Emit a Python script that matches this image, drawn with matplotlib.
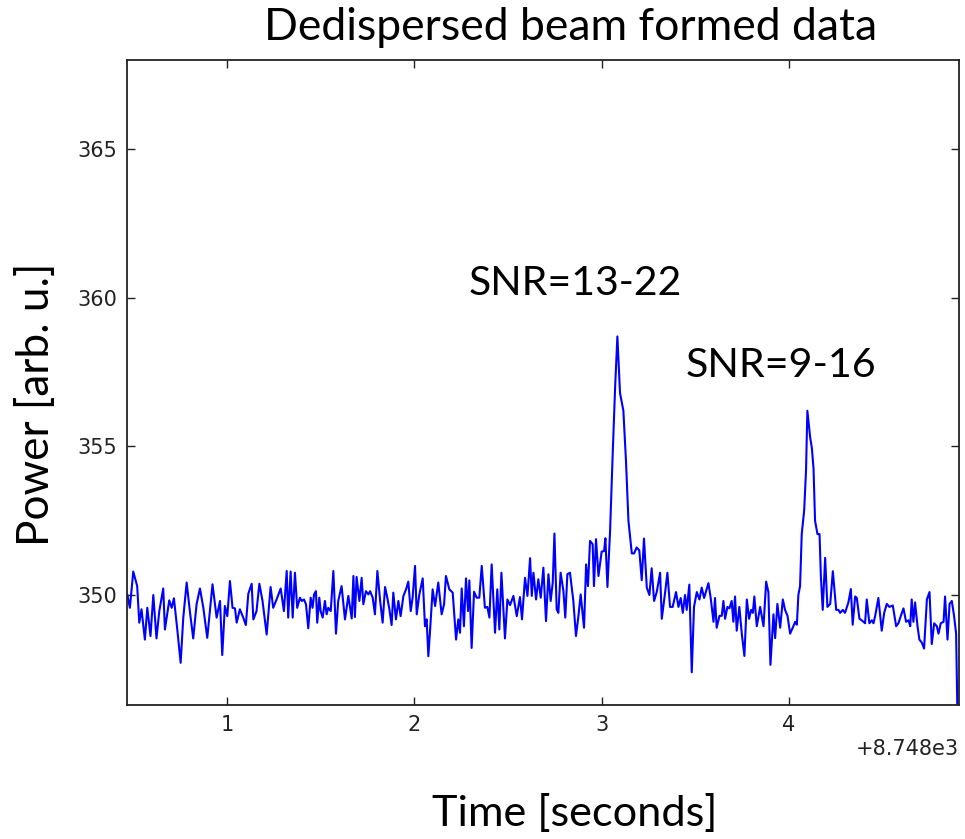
import matplotlib
matplotlib.use("Agg")
import matplotlib.pyplot as plt
import numpy as np
from matplotlib.ticker import ScalarFormatter, FixedLocator

# ---------------- data ----------------
title = "Dedispersed beam formed data"
x_label = "Time [seconds]"
y_label = "Power [arb. u.]"
peak_labels = ["SNR=13-22", "SNR=9-16"]
peak_label_pos = [(2.861, 360.49), (3.957, 357.72)]   # data coords (s after offset, power)
time_offset = 8748.0
x_ticks = [1, 2, 3, 4]
y_ticks = [350, 355, 360, 365]
x_range = (0.465, 4.909)
y_range = (346.3, 368.0)

time_s = [
    0.468, 0.482, 0.500, 0.521, 0.532, 0.544, 0.562, 0.575, 0.592, 0.607,
    0.624, 0.639, 0.660, 0.669, 0.692, 0.705, 0.717, 0.735, 0.753, 0.767,
    0.785, 0.802, 0.820, 0.838, 0.856, 0.874, 0.895, 0.923, 0.945, 0.963,
    0.975, 0.989, 1.002, 1.016, 1.030, 1.043, 1.052, 1.069, 1.087, 1.101,
    1.114, 1.132, 1.141, 1.158, 1.173, 1.190, 1.212, 1.233, 1.247, 1.265,
    1.287, 1.304, 1.319, 1.327, 1.340, 1.351, 1.363, 1.375, 1.390,
    1.399, 1.411, 1.422, 1.434, 1.447, 1.457, 1.465, 1.475, 1.482, 1.493,
    1.500, 1.511, 1.523, 1.532, 1.541, 1.554, 1.568, 1.582, 1.594, 1.612,
    1.630, 1.648, 1.666, 1.675, 1.683, 1.692, 1.707, 1.719, 1.728, 1.742,
    1.755, 1.764, 1.778, 1.790, 1.803, 1.817, 1.831, 1.844, 1.856, 1.867,
    1.879, 1.888, 1.902, 1.915, 1.927, 1.942, 1.956, 1.968, 1.981, 1.991,
    2.004, 2.013, 2.027, 2.045, 2.057, 2.066, 2.075, 2.084, 2.098, 2.111,
    2.128, 2.146, 2.159, 2.169, 2.187, 2.205, 2.223, 2.235, 2.244,
    2.253, 2.265, 2.276, 2.287, 2.294, 2.306, 2.319, 2.333, 2.347, 2.360,
    2.377, 2.390, 2.401, 2.413, 2.431, 2.443, 2.454, 2.465, 2.484, 2.497,
    2.511, 2.529, 2.547, 2.564, 2.575, 2.591, 2.604, 2.618, 2.627, 2.636,
    2.650, 2.662, 2.675, 2.689, 2.703, 2.716, 2.728, 2.739, 2.748, 2.760,
    2.769, 2.781, 2.796, 2.806, 2.817, 2.831, 2.849, 2.863, 2.876, 2.888,
    2.906, 2.917, 2.927, 2.938, 2.952, 2.959, 2.970, 2.983, 3.000, 3.013,
    3.020, 3.031,
    3.045, 3.059, 3.072, 3.084, 3.098, 3.116, 3.130, 3.143, 3.161, 3.173,
    3.187, 3.201, 3.214, 3.226, 3.241, 3.255, 3.267, 3.280, 3.294, 3.312,
    3.321, 3.339, 3.351, 3.365, 3.379, 3.397, 3.410, 3.422, 3.433, 3.445,
    3.454, 3.468, 3.481, 3.493, 3.508, 3.522, 3.534, 3.547, 3.561,
    3.570, 3.582, 3.597, 3.605, 3.614, 3.629, 3.641, 3.650, 3.659, 3.671,
    3.682, 3.694, 3.703, 3.712, 3.721, 3.735, 3.748, 3.762, 3.775, 3.787,
    3.798, 3.807, 3.815, 3.828, 3.846, 3.864, 3.878, 3.890, 3.901, 3.917,
    3.926, 3.938, 3.953, 3.967, 3.979, 3.992, 4.006, 4.020, 4.033, 4.042,
    4.050, 4.059, 4.068, 4.081, 4.091, 4.098, 4.113, 4.122, 4.131, 4.139,
    4.152, 4.163, 4.170, 4.180, 4.193, 4.205, 4.220, 4.234, 4.252,
    4.264, 4.273, 4.287, 4.299, 4.317, 4.330, 4.340, 4.353, 4.362, 4.376,
    4.388, 4.406, 4.415, 4.429, 4.442, 4.451, 4.460, 4.477, 4.495, 4.508,
    4.522, 4.536, 4.554, 4.572, 4.584, 4.597, 4.611, 4.625, 4.638, 4.647,
    4.655, 4.664, 4.673, 4.686, 4.696, 4.709, 4.721, 4.736, 4.750, 4.762,
    4.775, 4.789, 4.798, 4.810, 4.825, 4.833, 4.846, 4.857, 4.869, 4.881,
    4.892, 4.899,
]

power = [
    350.02, 349.57, 350.79, 350.30, 349.07, 349.52, 348.50, 349.57, 348.62, 350.00,
    348.54, 349.46, 350.22, 348.84, 349.82, 349.57, 349.89, 348.84, 347.72, 349.24,
    350.42, 349.46, 348.54, 349.69, 350.22, 349.57, 348.56, 350.36, 349.24, 349.80,
    347.98, 349.63, 349.29, 350.47, 349.57, 349.55, 349.07, 349.52, 349.24, 348.99,
    350.04, 350.38, 349.18, 349.46, 350.38, 349.80, 348.67, 350.27, 349.57, 349.85,
    350.22, 349.46, 350.81, 349.24, 350.79, 349.24, 350.75, 349.57, 349.91,
    349.80, 349.85, 349.69, 348.88, 349.91, 349.57, 350.02, 350.13, 349.07, 349.91,
    349.46, 349.24, 349.80, 349.35, 349.57, 349.46, 350.81, 348.70, 349.80, 350.30,
    349.18, 349.97, 349.21, 350.64, 349.26, 350.61, 349.80, 350.58, 349.69, 350.13,
    350.02, 350.13, 349.91, 349.35, 350.81, 349.85, 349.07, 350.27, 349.91, 349.52,
    348.99, 350.08, 349.18, 349.80, 349.29, 349.97, 350.19, 350.45, 349.46, 349.91,
    350.98, 349.35, 350.02, 350.56, 348.95, 349.18, 347.94, 348.79, 350.19, 349.63,
    350.42, 349.35, 349.69, 350.64, 350.19, 350.08, 348.50, 349.18, 348.73,
    350.22, 348.95, 350.56, 349.46, 350.49, 348.22, 350.11, 349.91, 349.91, 350.98,
    349.57, 349.60, 349.24, 351.03, 348.73, 350.19, 348.84, 350.75, 348.54, 349.85,
    349.66, 349.97, 349.29, 349.93, 349.18, 350.58, 349.97, 351.24, 349.97, 350.75,
    349.85, 350.53, 349.91, 350.92, 349.12, 350.70, 349.80, 350.42, 352.07, 349.52,
    349.40, 350.75, 350.13, 349.24, 350.70, 350.75, 349.80, 348.62, 349.29, 350.02,
    348.90, 351.03, 350.30, 351.82, 351.71, 350.30, 351.88, 350.64, 351.46, 351.48,
    351.91, 350.27,
    352.15, 354.75, 357.00, 358.70, 356.80, 356.20, 354.50, 352.50, 351.40, 351.40,
    351.60, 351.50, 350.50, 351.90, 350.25, 350.00, 350.90, 349.80, 350.10, 350.75,
    349.20, 350.10, 350.75, 349.60, 349.60, 350.10, 349.60, 349.90, 349.40, 350.00,
    349.50, 350.35, 347.40, 349.60, 350.10, 349.85, 350.25, 349.90, 350.20,
    350.40, 349.90, 349.10, 349.90, 348.90, 349.30, 349.30, 349.80, 349.20, 349.60,
    349.55, 349.80, 349.10, 349.95, 348.80, 349.60, 348.70, 347.95, 349.85, 349.20,
    349.50, 349.40, 349.95, 348.95, 349.60, 348.95, 350.45, 350.10, 347.65, 349.35,
    348.55, 349.70, 348.90, 349.85, 349.50, 349.30, 348.70, 348.90, 349.10, 349.00,
    350.00, 350.30, 352.05, 352.85, 354.20, 356.20, 355.30, 354.95, 354.25, 352.50,
    352.05, 352.05, 350.65, 349.50, 351.25, 349.60, 349.70, 350.80, 349.50,
    349.50, 349.40, 349.50, 349.40, 349.75, 350.20, 349.00, 349.95, 349.90, 349.20,
    349.15, 349.05, 349.85, 349.05, 349.15, 349.05, 349.30, 349.90, 348.80, 349.40,
    349.70, 349.60, 349.65, 348.95, 349.05, 349.30, 349.55, 349.10, 349.15, 348.95,
    349.85, 349.10, 349.75, 348.95, 348.50, 348.40, 348.20, 349.85, 350.10, 348.35,
    349.05, 348.95, 348.70, 349.05, 349.10, 349.95, 348.50, 349.70, 349.80, 349.30,
    348.70, 346.00,
]

# ---------------- figure ----------------
W, H = 965, 839
fig = plt.figure(figsize=(W / 100, H / 100), dpi=100, facecolor="white")


def px(x, y):
    return x / W, 1 - y / H


ax = fig.add_axes([126.7 / W, 1 - 705 / H, (959.3 - 126.7) / W, (705 - 60) / H])
t_abs = time_offset + np.asarray(time_s)
ax.plot(t_abs, power, color="#0000ff", lw=1.5)

ax.set_xlim(time_offset + x_range[0], time_offset + x_range[1])
ax.set_ylim(*y_range)
ax.xaxis.set_major_locator(FixedLocator([time_offset + v for v in x_ticks]))
ax.yaxis.set_major_locator(FixedLocator(y_ticks))
xfmt = ScalarFormatter(useOffset=time_offset)
ax.xaxis.set_major_formatter(xfmt)
yfmt = ScalarFormatter(useOffset=False)
ax.yaxis.set_major_formatter(yfmt)

ax.tick_params(which="major", direction="in", length=6, width=1.0,
               top=True, right=True, labelsize=15, pad=7, colors="#222222")
ax.xaxis.get_offset_text().set_fontsize(15)
for sp in ax.spines.values():
    sp.set_linewidth(1.3)
    sp.set_color("#222222")

font_big = "Lato"
big_kw = dict(family=font_big, fontweight="normal", color="black")
t_title = fig.text(*px(571, 40), title, ha="center", va="baseline", fontsize=28, **big_kw)
t_ylab = fig.text(*px(37, 404), y_label, ha="center", va="center", rotation=90,
                  fontsize=28, **big_kw)
t_xlab = fig.text(*px(575, 813), x_label, ha="center", va="center", fontsize=28, **big_kw)
t_p1 = ax.text(peak_label_pos[0][0] + time_offset, peak_label_pos[0][1], peak_labels[0],
               ha="center", va="center", fontsize=24, **big_kw)
t_p2 = ax.text(peak_label_pos[1][0] + time_offset, peak_label_pos[1][1], peak_labels[1],
               ha="center", va="center", fontsize=24, **big_kw)

# fit text sizes to measured extents of the reference
fig.canvas.draw()
r = fig.canvas.get_renderer()
targets = [(t_title, 613, "w"), (t_ylab, 283, "h"), (t_xlab, 286, "w"),
           (t_p1, 214, "w"), (t_p2, 191, "w")]
for txt, target, dim in targets:
    bb = txt.get_window_extent(r)
    cur = bb.width if dim == "w" else bb.height
    txt.set_fontsize(txt.get_fontsize() * target / cur)

fig.savefig("out.png", dpi=100, facecolor="white")
